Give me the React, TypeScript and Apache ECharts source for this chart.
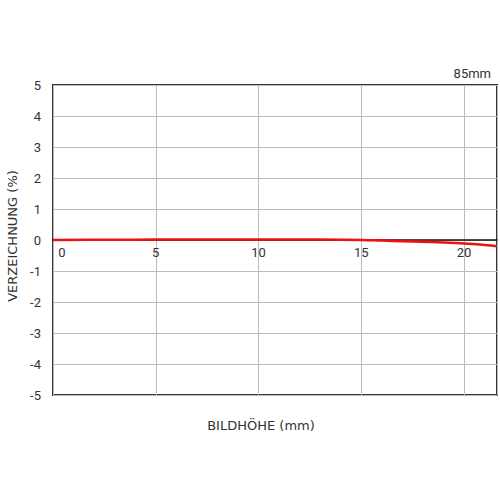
import React, { useEffect, useRef } from "react";
import * as echarts from "echarts";

const xValues = [0, 2, 4, 6, 8, 10, 12, 14, 15, 16, 17, 18, 19, 20, 21, 21.6];
const distortion = [0, 0.005, 0.01, 0.015, 0.02, 0.02, 0.015, 0.01, 0, -0.02, -0.04, -0.06, -0.08, -0.11, -0.16, -0.2];
const yTicks = [-5, -4, -3, -2, -1, 0, 1, 2, 3, 4, 5];
const xTicks = [0, 5, 10, 15, 20];
const focalLabel = "85mm";
const xName = "BILDHÖHE (mm)";
const yName = "VERZEICHNUNG (%)";

const FONT = "Roboto";
const NAME_FONT = "DejaVu Sans";

export default function App() {
  const ref = useRef<HTMLDivElement>(null);
  useEffect(() => {
    if (!ref.current) return;
    const chart = echarts.init(ref.current, null, { renderer: "svg" });
    chart.setOption({
      animation: false,
      backgroundColor: "#fff",
      textStyle: { fontFamily: FONT },
      title: {
        text: focalLabel,
        right: 4,
        top: 62,
        textStyle: { fontSize: 13, fontWeight: "normal", color: "#333", fontFamily: FONT },
      },
      grid: {
        left: 53,
        right: 3,
        top: 85,
        bottom: 105,
        show: true,
        borderColor: "#333",
        borderWidth: 2,
        containLabel: false,
      },
      xAxis: {
        type: "value",
        min: 0,
        max: 21.6,
        interval: 5,
        position: "bottom",
        offset: -155,
        axisLine: { show: true, onZero: false, lineStyle: { color: "#111", width: 1.5 } },
        axisTick: { show: false },
        axisLabel: {
          margin: 6,
          fontSize: 13,
          color: "#333",
          fontFamily: FONT,
          showMaxLabel: false,
          formatter: (v: number) => (xTicks.includes(v) ? (v === 0 ? "{z|0}" : String(v)) : ""),
          rich: { z: { padding: [0, 0, 0, 18], fontSize: 13, color: "#333", fontFamily: FONT } },
        },
        splitLine: { show: true, lineStyle: { color: "#bbb", width: 1 } },
      },
      yAxis: {
        type: "value",
        min: yTicks[0],
        max: yTicks[yTicks.length - 1],
        interval: 1,
        axisLine: { show: false },
        axisTick: { show: false },
        axisLabel: { margin: 12, fontSize: 13, color: "#333", fontFamily: FONT },
        splitLine: { show: true, lineStyle: { color: "#bbb", width: 1 } },
      },
      graphic: [
        {
          type: "text",
          x: 261,
          y: 425,
          style: {
            text: xName,
            fontSize: 13,
            fill: "#333",
            fontFamily: NAME_FONT,
            align: "center",
            verticalAlign: "middle",
          },
        },
        {
          type: "text",
          x: 12,
          y: 236,
          rotation: Math.PI / 2,
          style: {
            text: yName,
            fontSize: 13,
            fill: "#333",
            fontFamily: NAME_FONT,
            align: "center",
            verticalAlign: "middle",
          },
        },
      ],
      series: [
        {
          type: "line",
          data: xValues.map((x, i) => [x, distortion[i]]),
          showSymbol: false,
          smooth: true,
          lineStyle: { color: "#f01010", width: 2.5 },
          z: 5,
        },
      ],
    });
    return () => chart.dispose();
  }, []);
  return <div ref={ref} style={{ width: 500, height: 500, position: "absolute", left: 0, top: 0 }} />;
}
